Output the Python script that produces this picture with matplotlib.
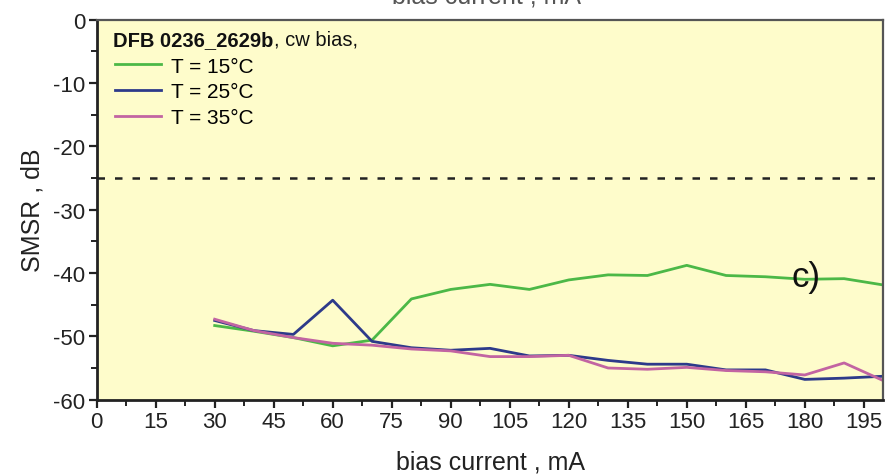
import matplotlib
matplotlib.use('Agg')
import matplotlib.pyplot as plt
import numpy as np
from matplotlib.ticker import MultipleLocator

plt.rcParams['font.family'] = ['Liberation Sans', 'DejaVu Sans']
plt.rcParams['axes.unicode_minus'] = False

# SMSR vs bias current, DFB 0236_2629b, cw bias
current = [30, 40, 50, 60, 70, 80, 90, 100, 110, 120, 130, 140, 150, 160, 170, 180, 190, 200]
smsr_15 = [-48.3, -49.2, -50.2, -51.5, -50.6, -44.1, -42.6, -41.8, -42.6, -41.1, -40.3, -40.4,
           -38.8, -40.4, -40.6, -41.0, -40.9, -41.9]
smsr_25 = [-47.5, -49.1, -49.7, -44.3, -50.8, -51.8, -52.2, -51.9, -53.1, -53.0, -53.8, -54.4,
           -54.4, -55.3, -55.3, -56.8, -56.6, -56.3]
smsr_35 = [-47.3, -49.1, -50.2, -51.1, -51.4, -52.0, -52.3, -53.2, -53.2, -53.0, -55.0, -55.2,
           -54.9, -55.4, -55.6, -56.1, -54.2, -57.0]
labels = ['T = 15°C', 'T = 25°C', 'T = 35°C']
colors = ['#4cb847', '#2d3a8a', '#c264a2']
smsr_limit = -25

fig = plt.figure(figsize=(8.87, 4.77), dpi=100)
ax = fig.add_axes([0.109, 0.160, 0.887, 0.797])
ax.set_facecolor('#fefccb')

for y, lab, col in zip([smsr_15, smsr_25, smsr_35], labels, colors):
    ax.plot(current, y, color=col, lw=2.0, label=lab)

ax.axhline(smsr_limit, color='#222222', lw=1.8, ls=(0, (3, 4)))

ax.set_xlim(0, 200)
ax.set_ylim(-60, 0)
ax.set_xticks(np.arange(0, 196, 15))
ax.xaxis.set_minor_locator(MultipleLocator(7.5))
ax.set_yticks(np.arange(-60, 1, 10))
ax.yaxis.set_minor_locator(MultipleLocator(5))
ax.tick_params(which='major', direction='out', length=6, width=1.6, labelsize=16,
               colors='#222222', pad=2)
ax.tick_params(which='minor', direction='out', length=4, width=1.4, colors='#222222')
for s in ['left', 'bottom']:
    ax.spines[s].set_linewidth(2)
    ax.spines[s].set_color('#222222')
for s in ['top', 'right']:
    ax.spines[s].set_linewidth(1.6)
    ax.spines[s].set_color('#555555')

ax.set_xlabel('bias current , mA', fontsize=18, labelpad=13, color='#222222')
ax.set_ylabel('SMSR , dB', fontsize=18, labelpad=6, color='#222222')

# header of the legend block
hdr = ax.text(0.021, 0.948, 'DFB 0236_2629b', transform=ax.transAxes, fontsize=14.5,
              fontweight='bold', va='center', ha='left', color='#111111')
fig.canvas.draw()
bb = hdr.get_window_extent().transformed(ax.transAxes.inverted())
ax.text(bb.x1, 0.948, ', cw bias,', transform=ax.transAxes, fontsize=14.5,
        va='center', ha='left', color='#111111')

ax.legend(loc='upper left', bbox_to_anchor=(0.008, 0.935), frameon=False, fontsize=15,
          handlelength=2.2, handletextpad=0.45, labelspacing=0.32, borderaxespad=0.3,
          borderpad=0.3)

ax.text(180.3, -40.5, 'c)', fontsize=25, ha='center', va='center', color='#111111')

# axis title of the panel above, cut by the figure edge
fig.text(0.548, 1.008, 'bias current , mA', fontsize=18, ha='center', va='center', color='#555555')

fig.savefig('out.png', dpi=100)
